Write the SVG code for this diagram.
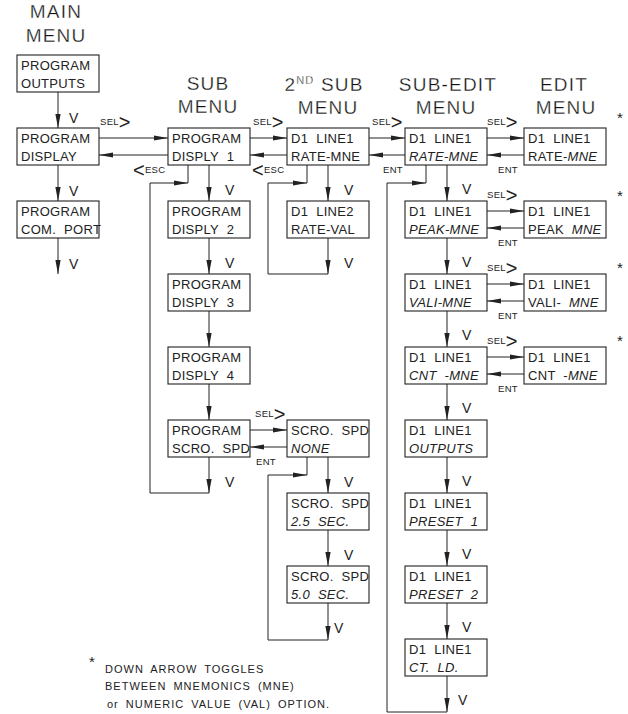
<svg xmlns="http://www.w3.org/2000/svg" width="628" height="714" viewBox="0 0 628 714">
<style>
rect{fill:#fff;stroke:#222;stroke-width:1.1}
text{font-family:"Liberation Sans",Arial,sans-serif;fill:#222}
.t{font-size:13px;letter-spacing:0.3px;word-spacing:4px}
.i{font-style:italic}
.h{font-size:19px;letter-spacing:1.2px;text-anchor:middle;fill:#111;stroke:#fff;stroke-width:0.3px}
.sup{font-size:11px}
.v{font-size:14px}
.s{font-size:9.5px;letter-spacing:0.3px}
.big{font-size:20px}
.ast{font-size:15px}
.fn{font-size:11px;letter-spacing:1px;word-spacing:3px}
#connectors line,#connectors path{stroke:#222;stroke-width:1;fill:none}
.a{marker-end:url(#ah)}
</style>
<defs>
<marker id="ah" viewBox="0 0 14 6" refX="14" refY="3" markerWidth="14" markerHeight="6" markerUnits="userSpaceOnUse" orient="auto"><path d="M0,0.4 L14,3 L0,5.6 Z" fill="#222"/></marker>
</defs>

<g id="headers">
<text class="h" x="56" y="18">MAIN</text>
<text class="h" x="56" y="42">MENU</text>
<text class="h" x="208" y="90">SUB</text>
<text class="h" x="208" y="113">MENU</text>
<text class="h" x="324" y="91">2<tspan class="sup" dy="-7">ND</tspan><tspan dy="7"> SUB</tspan></text>
<text class="h" x="328" y="114">MENU</text>
<text class="h" x="448" y="91">SUB-EDIT</text>
<text class="h" x="446" y="114">MENU</text>
<text class="h" x="564" y="91">EDIT</text>
<text class="h" x="566" y="114">MENU</text>
</g>

<g id="connectors">
<line class="a" x1="99" y1="138" x2="168" y2="138"/>
<line class="a" x1="168" y1="155" x2="99" y2="155"/>
<line class="a" x1="250" y1="138" x2="287" y2="138"/>
<line class="a" x1="287" y1="155" x2="250" y2="155"/>
<line class="a" x1="369" y1="138" x2="405" y2="138"/>
<line class="a" x1="405" y1="155" x2="369" y2="155"/>
<line class="a" x1="487" y1="138" x2="524" y2="138"/>
<line class="a" x1="524" y1="155" x2="487" y2="155"/>
<line class="a" x1="487" y1="211" x2="524" y2="211"/>
<line class="a" x1="524" y1="228" x2="487" y2="228"/>
<line class="a" x1="487" y1="284" x2="524" y2="284"/>
<line class="a" x1="524" y1="301" x2="487" y2="301"/>
<line class="a" x1="487" y1="357" x2="524" y2="357"/>
<line class="a" x1="524" y1="374" x2="487" y2="374"/>
<line class="a" x1="250" y1="430" x2="287" y2="430"/>
<line class="a" x1="287" y1="447" x2="250" y2="447"/>
<line class="a" x1="58" y1="92" x2="58" y2="128"/>
<line class="a" x1="58" y1="165" x2="58" y2="201"/>
<line class="a" x1="58" y1="238" x2="58" y2="274"/>
<line class="a" x1="209" y1="165" x2="209" y2="201"/>
<line class="a" x1="209" y1="238" x2="209" y2="274"/>
<line class="a" x1="209" y1="311" x2="209" y2="347"/>
<line class="a" x1="209" y1="384" x2="209" y2="420"/>
<line class="a" x1="209" y1="457" x2="209" y2="493"/>
<line x1="188" y1="165" x2="188" y2="183"/>
<path class="a" d="M209,493 L150,493 L150,183 L188,183"/>
<line class="a" x1="328" y1="165" x2="328" y2="201"/>
<line class="a" x1="328" y1="238" x2="328" y2="274"/>
<line x1="307" y1="165" x2="307" y2="183"/>
<path class="a" d="M328,274 L268,274 L268,183 L307,183"/>
<line class="a" x1="328" y1="457" x2="328" y2="493"/>
<line class="a" x1="328" y1="530" x2="328" y2="566"/>
<line class="a" x1="328" y1="603" x2="328" y2="640"/>
<line x1="307" y1="457" x2="307" y2="475"/>
<path class="a" d="M328,640 L268,640 L268,475 L307,475"/>
<line class="a" x1="447" y1="165" x2="447" y2="201"/>
<line class="a" x1="447" y1="238" x2="447" y2="274"/>
<line class="a" x1="447" y1="311" x2="447" y2="347"/>
<line class="a" x1="447" y1="384" x2="447" y2="420"/>
<line class="a" x1="447" y1="457" x2="447" y2="493"/>
<line class="a" x1="447" y1="530" x2="447" y2="566"/>
<line class="a" x1="447" y1="603" x2="447" y2="639"/>
<line class="a" x1="447" y1="676" x2="447" y2="712"/>
<line x1="426" y1="165" x2="426" y2="183"/>
<path class="a" d="M447,712 L387,712 L387,183 L426,183"/>
</g>

<g id="labels">
<text class="v" x="69" y="123">V</text>
<text class="v" x="69" y="196">V</text>
<text class="v" x="69" y="269">V</text>
<text class="v" x="225" y="195">V</text>
<text class="v" x="225" y="268">V</text>
<text class="v" x="225" y="487">V</text>
<text class="v" x="344" y="195">V</text>
<text class="v" x="344" y="268">V</text>
<text class="v" x="344" y="487">V</text>
<text class="v" x="344" y="560">V</text>
<text class="v" x="334" y="633">V</text>
<text class="v" x="462" y="194">V</text>
<text class="v" x="462" y="267">V</text>
<text class="v" x="462" y="340">V</text>
<text class="v" x="462" y="413">V</text>
<text class="v" x="462" y="486">V</text>
<text class="v" x="462" y="559">V</text>
<text class="v" x="462" y="632">V</text>
<text class="v" x="458" y="705">V</text>
<text class="s" x="100" y="125">SEL<tspan class="big" dy="4">&gt;</tspan></text>
<text class="s" x="253" y="125">SEL<tspan class="big" dy="4">&gt;</tspan></text>
<text class="s" x="372" y="125">SEL<tspan class="big" dy="4">&gt;</tspan></text>
<text class="s" x="487" y="125">SEL<tspan class="big" dy="4">&gt;</tspan></text>
<text class="s" x="487" y="198">SEL<tspan class="big" dy="4">&gt;</tspan></text>
<text class="s" x="487" y="271">SEL<tspan class="big" dy="4">&gt;</tspan></text>
<text class="s" x="487" y="344">SEL<tspan class="big" dy="4">&gt;</tspan></text>
<text class="s" x="255" y="417">SEL<tspan class="big" dy="4">&gt;</tspan></text>
<text class="s" x="133" y="177"><tspan class="big">&lt;</tspan><tspan dy="-4">ESC</tspan></text>
<text class="s" x="252" y="177"><tspan class="big">&lt;</tspan><tspan dy="-4">ESC</tspan></text>
<text class="s" x="383" y="173">ENT</text>
<text class="s" x="498" y="173">ENT</text>
<text class="s" x="498" y="246">ENT</text>
<text class="s" x="498" y="319">ENT</text>
<text class="s" x="498" y="392">ENT</text>
<text class="s" x="256" y="465">ENT</text>
<text class="ast" x="617" y="123">*</text>
<text class="ast" x="617" y="201">*</text>
<text class="ast" x="617" y="273">*</text>
<text class="ast" x="617" y="346">*</text>
</g>

<g id="A1"><rect x="17" y="55" width="82" height="37"/><text class="t" x="21" y="70">PROGRAM</text><text class="t" x="21" y="88">OUTPUTS</text></g>
<g id="A2"><rect x="17" y="128" width="82" height="37"/><text class="t" x="21" y="143">PROGRAM</text><text class="t" x="21" y="161">DISPLAY</text></g>
<g id="A3"><rect x="17" y="201" width="82" height="37"/><text class="t" x="21" y="216">PROGRAM</text><text class="t" x="21" y="234">COM. PORT</text></g>

<g id="B1"><rect x="168" y="128" width="82" height="37"/><text class="t" x="172" y="143">PROGRAM</text><text class="t" x="172" y="161">DISPLY 1</text></g>
<g id="B2"><rect x="168" y="201" width="82" height="37"/><text class="t" x="172" y="216">PROGRAM</text><text class="t" x="172" y="234">DISPLY 2</text></g>
<g id="B3"><rect x="168" y="274" width="82" height="37"/><text class="t" x="172" y="289">PROGRAM</text><text class="t" x="172" y="307">DISPLY 3</text></g>
<g id="B4"><rect x="168" y="347" width="82" height="37"/><text class="t" x="172" y="362">PROGRAM</text><text class="t" x="172" y="380">DISPLY 4</text></g>
<g id="B5"><rect x="168" y="420" width="82" height="37"/><text class="t" x="172" y="435">PROGRAM</text><text class="t" x="172" y="453">SCRO. SPD</text></g>

<g id="C1"><rect x="287" y="128" width="82" height="37"/><text class="t" x="291" y="143">D1 LINE1</text><text class="t" x="291" y="161">RATE-MNE</text></g>
<g id="C2"><rect x="287" y="201" width="82" height="37"/><text class="t" x="291" y="216">D1 LINE2</text><text class="t" x="291" y="234">RATE-VAL</text></g>
<g id="C3"><rect x="287" y="420" width="82" height="37"/><text class="t" x="291" y="435">SCRO. SPD</text><text class="t i" x="291" y="453">NONE</text></g>
<g id="C4"><rect x="287" y="493" width="82" height="37"/><text class="t" x="291" y="508">SCRO. SPD</text><text class="t i" x="291" y="526">2.5 SEC.</text></g>
<g id="C5"><rect x="287" y="566" width="82" height="37"/><text class="t" x="291" y="581">SCRO. SPD</text><text class="t i" x="291" y="599">5.0 SEC.</text></g>

<g id="D1"><rect x="405" y="128" width="82" height="37"/><text class="t" x="409" y="143">D1 LINE1</text><text class="t i" x="409" y="161">RATE-MNE</text></g>
<g id="D2"><rect x="405" y="201" width="82" height="37"/><text class="t" x="409" y="216">D1 LINE1</text><text class="t i" x="409" y="234">PEAK-MNE</text></g>
<g id="D3"><rect x="405" y="274" width="82" height="37"/><text class="t" x="409" y="289">D1 LINE1</text><text class="t i" x="409" y="307">VALI-MNE</text></g>
<g id="D4"><rect x="405" y="347" width="82" height="37"/><text class="t" x="409" y="362">D1 LINE1</text><text class="t i" x="409" y="380">CNT -MNE</text></g>
<g id="D5"><rect x="405" y="420" width="82" height="37"/><text class="t" x="409" y="435">D1 LINE1</text><text class="t i" x="409" y="453">OUTPUTS</text></g>
<g id="D6"><rect x="405" y="493" width="82" height="37"/><text class="t" x="409" y="508">D1 LINE1</text><text class="t i" x="409" y="526">PRESET 1</text></g>
<g id="D7"><rect x="405" y="566" width="82" height="37"/><text class="t" x="409" y="581">D1 LINE1</text><text class="t i" x="409" y="599">PRESET 2</text></g>
<g id="D8"><rect x="405" y="639" width="82" height="37"/><text class="t" x="409" y="654">D1 LINE1</text><text class="t i" x="409" y="672">CT. LD.</text></g>

<g id="E1"><rect x="524" y="128" width="82" height="37"/><text class="t" x="528" y="143">D1 LINE1</text><text class="t" x="528" y="161">RATE-<tspan class="i">MNE</tspan></text></g>
<g id="E2"><rect x="524" y="201" width="82" height="37"/><text class="t" x="528" y="216">D1 LINE1</text><text class="t" x="528" y="234">PEAK <tspan class="i">MNE</tspan></text></g>
<g id="E3"><rect x="524" y="274" width="82" height="37"/><text class="t" x="528" y="289">D1 LINE1</text><text class="t" x="528" y="307">VALI- <tspan class="i">MNE</tspan></text></g>
<g id="E4"><rect x="524" y="347" width="82" height="37"/><text class="t" x="528" y="362">D1 LINE1</text><text class="t" x="528" y="380">CNT -<tspan class="i">MNE</tspan></text></g>

<g id="footnote">
<text class="ast" x="89" y="667">*</text>
<text class="fn" x="105" y="673">DOWN ARROW TOGGLES</text>
<text class="fn" x="105" y="690">BETWEEN MNEMONICS (MNE)</text>
<text class="fn" x="107" y="708">or NUMERIC VALUE (VAL) OPTION.</text>
</g>
</svg>
